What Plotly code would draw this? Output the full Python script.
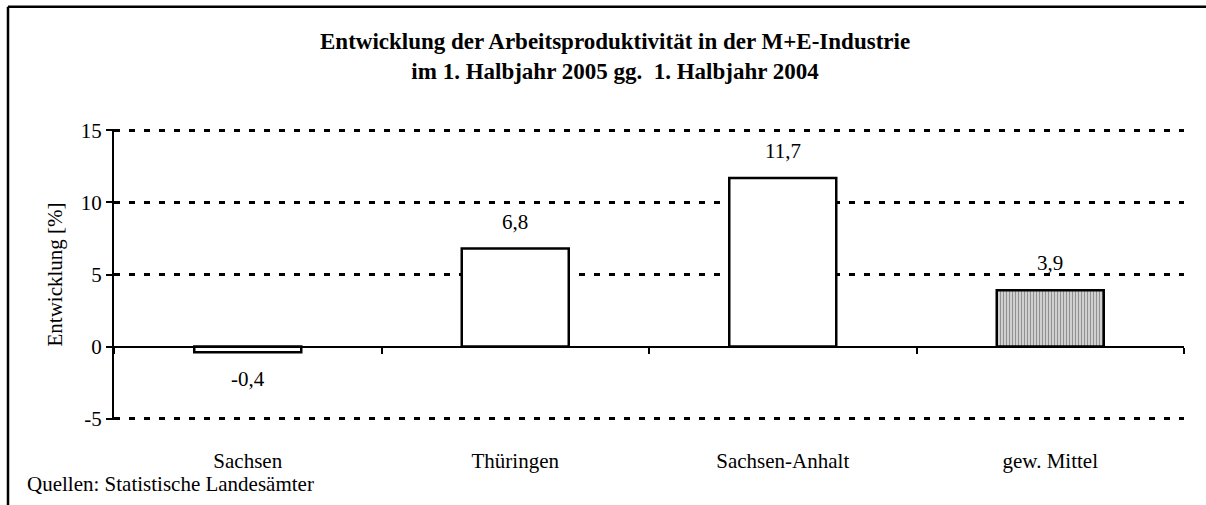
import plotly.graph_objects as go

categories = ["Sachsen", "Thüringen", "Sachsen-Anhalt", "gew. Mittel"]
values = [-0.4, 6.8, 11.7, 3.9]
ytick_vals = [-5, 0, 5, 10, 15]
ytick_text = ["-5", "0", "5", "10", "15"]
title_text = "Entwicklung der Arbeitsproduktivität in der M+E-Industrie<br>im 1. Halbjahr 2005 gg.  1. Halbjahr 2004"
ytitle = "Entwicklung [%]"
source_text = "Quellen: Statistische Landesämter"

W, H = 1206, 505
EXT = 0.1                      # small range extension so end gridlines are drawn
UNIT = 289 / 20                # pixels per y unit
L, R = 114, 22
T, B = 130 - EXT * UNIT, 86 - EXT * UNIT
PW, PH = W - L - R, H - T - B
FONT = "Liberation Serif"


def px_x(p):
    return (p - L) / PW


def px_y(p):
    return (H - B - p) / PH


fills = ["white", "white", "white", "#d0d0d0"]
patterns = ["", "", "", "|"]

fig = go.Figure()
fig.add_trace(go.Bar(
    x=categories, y=values, width=0.4,
    marker=dict(
        color=fills,
        line=dict(color="black", width=2.5),
        pattern=dict(shape=patterns, fgcolor="#6a6a6a", bgcolor="#dcdcdc",
                     size=3, solidity=0.3, fillmode="overlay"),
    ),
    hoverinfo="skip", showlegend=False,
))
# helper trace for axis at zero line
fig.add_trace(go.Scatter(x=[None], y=[None], xaxis="x2", yaxis="y",
                         showlegend=False, hoverinfo="skip"))

for c, v in zip(categories, values):
    fig.add_annotation(
        x=c, y=v, xref="x", yref="y",
        text=f"{v:.1f}".replace(".", ","),
        showarrow=False, yanchor="middle",
        yshift=27 if v >= 0 else -27,
        font=dict(family=FONT, size=21, color="black"),
    )

fig.add_annotation(
    xref="paper", yref="paper", x=px_x(615), y=px_y(56),
    text="<b>" + title_text.replace("<br>", "</b><br><b>") + "</b>",
    showarrow=False, xanchor="center", yanchor="middle",
    font=dict(family=FONT, size=23, color="black"),
)
fig.add_annotation(
    xref="paper", yref="paper", x=px_x(25), y=px_y(485),
    text=source_text, showarrow=False, xanchor="left", yanchor="middle",
    font=dict(family=FONT, size=21, color="black"),
)

# outer frame (left and top edges)
fig.add_shape(type="line", xref="paper", yref="paper",
              x0=px_x(8), x1=px_x(W + 5), y0=px_y(6), y1=px_y(6),
              line=dict(color="black", width=2.5))
fig.add_shape(type="line", xref="paper", yref="paper",
              x0=px_x(8), x1=px_x(8), y0=px_y(6), y1=px_y(H + 5),
              line=dict(color="black", width=2.5))

zero_pos = (0 - (-5 - EXT)) / (20 + 2 * EXT)

fig.update_layout(
    width=W, height=H,
    margin=dict(l=L, r=R, t=T, b=B, autoexpand=False),
    paper_bgcolor="white", plot_bgcolor="white",
    font=dict(family=FONT, size=21, color="black"),
    bargap=0.6,
    xaxis=dict(
        type="category", categoryarray=categories,
        showline=False, ticks="", showgrid=False, zeroline=False,
        tickfont=dict(family=FONT, size=21, color="black"),
        ticklabelstandoff=int(round(27 - EXT * UNIT)),
    ),
    xaxis2=dict(
        overlaying="x", anchor="free", position=zero_pos, side="bottom",
        range=[-0.5, 3.5], tickvals=[-0.5, 0.5, 1.5, 2.5, 3.5],
        showticklabels=False, ticks="outside", ticklen=6, tickwidth=2,
        tickcolor="black", showline=True, linecolor="black", linewidth=2,
        showgrid=False, zeroline=False,
    ),
    yaxis=dict(
        range=[-5 - EXT, 15 + EXT], tickvals=ytick_vals, ticktext=ytick_text,
        showline=True, linecolor="black", linewidth=2,
        ticks="outside", ticklen=6, tickwidth=2, tickcolor="black",
        showgrid=True, gridcolor="black", gridwidth=3, griddash="6px,9px",
        zeroline=True, zerolinecolor="black", zerolinewidth=2,
        tickfont=dict(family=FONT, size=21, color="black"),
        title=dict(text=ytitle, font=dict(family=FONT, size=21, color="black"),
                   standoff=12),
    ),
)

fig.write_html("out.html", config={"displayModeBar": False},
               post_script="document.body.style.margin='0';document.body.style.overflow='hidden';")
